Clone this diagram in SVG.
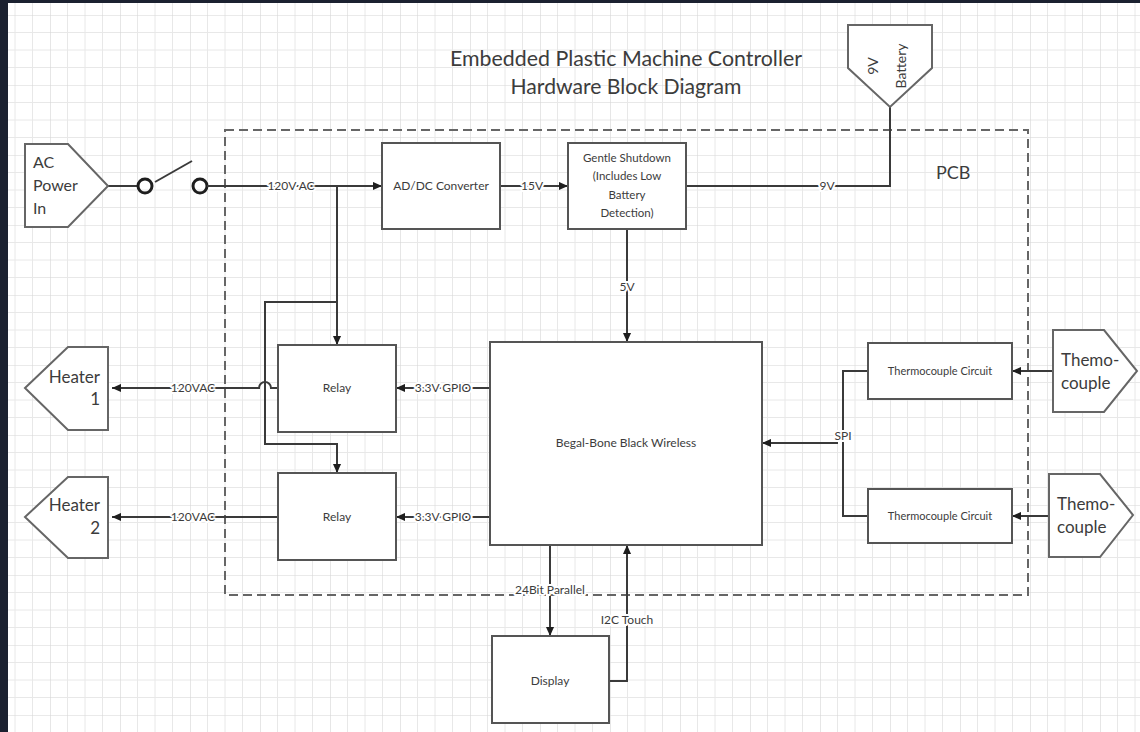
<svg xmlns="http://www.w3.org/2000/svg" width="1140" height="732" viewBox="0 0 1140 732">
<defs>
<pattern id="grid" patternUnits="userSpaceOnUse" x="50" y="15" width="70" height="70">
<path d="M17.5,0V70M35,0V70M52.5,0V70M0,17.5H70M0,35H70M0,52.5H70" stroke="#e8e8e8" stroke-width="1" fill="none"/>
<path d="M0,0V70M0,0H70" stroke="#d6d6d6" stroke-width="1.2" fill="none"/>
</pattern>
<marker id="arr" viewBox="0 0 10 10" refX="10" refY="5" markerWidth="9" markerHeight="9" markerUnits="userSpaceOnUse" orient="auto">
<path d="M0,0.5 L10,5 L0,9.5 z" fill="#1e1e1e"/>
</marker>
<style>
.box{fill:#fff;stroke:#555;stroke-width:2}
.shape{fill:#fff;stroke:#666;stroke-width:2}
.ln{fill:none;stroke:#3a3a3a;stroke-width:2}
.arr{marker-end:url(#arr)}
.t{font-family:Lato,"Liberation Sans",sans-serif;fill:#3c3c3c}
.c{text-anchor:middle}
.lbl{font-family:Lato,"Liberation Sans",sans-serif;fill:#3c3c3c;font-size:12px;text-anchor:middle;stroke:#fff;stroke-width:4;paint-order:stroke;stroke-linejoin:round}
</style>
</defs>
<rect x="0" y="0" width="1140" height="732" fill="#fff"/>
<rect x="8" y="3" width="1132" height="729" fill="url(#grid)"/>
<rect x="0" y="0" width="1140" height="3" fill="#1b2130"/>
<rect x="0" y="0" width="8" height="732" fill="#1b2130"/>

<g id="title">
<text class="t c" x="626" y="66" font-size="20.5" textLength="352" lengthAdjust="spacingAndGlyphs">Embedded Plastic Machine Controller</text>
<text class="t c" x="626" y="94" font-size="20.5" textLength="231" lengthAdjust="spacingAndGlyphs">Hardware Block Diagram</text>
</g>

<g id="pcb">
<rect x="225" y="130" width="803" height="465" fill="none" stroke="#666" stroke-width="2" stroke-dasharray="9,5"/>
<text class="t" x="936" y="179" font-size="18">PCB</text>
</g>

<g id="connectors">
<path class="ln" d="M108,186H138"/>
<circle cx="145" cy="186" r="7" fill="none" stroke="#1e1e1e" stroke-width="3"/>
<path class="ln" d="M155,182L192,161" stroke="#1e1e1e"/>
<circle cx="200" cy="186" r="7" fill="none" stroke="#1e1e1e" stroke-width="3"/>
<path class="ln arr" d="M207,186H382"/>
<path class="ln arr" d="M500,186H568"/>
<path class="ln" d="M686,186H890V107"/>
<path class="ln arr" d="M627,229V342"/>
<path class="ln arr" d="M337,186V345"/>
<path class="ln arr" d="M337,302H265V444H337V473"/>
<path class="ln arr" d="M278,388H271A6,6 0 0 0 259,388H112"/>
<path class="ln arr" d="M278,517H112"/>
<path class="ln arr" d="M490,388H396"/>
<path class="ln arr" d="M490,517H396"/>
<path class="ln arr" d="M1053,371H1012"/>
<path class="ln arr" d="M1049,516H1012"/>
<path class="ln" d="M868,371H843V516H868"/>
<path class="ln arr" d="M838,443H762"/>
<path class="ln arr" d="M550,545V636"/>
<path class="ln arr" d="M609,681H627V545"/>
<text class="lbl" x="291" y="190">120V AC</text>
<text class="lbl" x="532" y="190">15V</text>
<text class="lbl" x="827" y="190" font-size="10">9V</text>
<text class="lbl" x="627" y="291">5V</text>
<text class="lbl" x="193" y="392">120VAC</text>
<text class="lbl" x="193" y="521">120VAC</text>
<text class="lbl" x="443" y="392">3.3V GPIO</text>
<text class="lbl" x="443" y="521">3.3V GPIO</text>
<text class="lbl" x="843" y="440">SPI</text>
<text class="lbl" x="550" y="594">24Bit Parallel</text>
<text class="lbl" x="627" y="624">I2C Touch</text>
</g>

<g id="ac-power">
<path class="shape" d="M25,144H68L108,186L68,227H25Z"/>
<text class="t" x="33" y="168" font-size="16">AC</text>
<text class="t" x="33" y="191" font-size="16">Power</text>
<text class="t" x="33" y="214" font-size="16">In</text>
</g>

<g id="battery">
<path class="shape" d="M848,25H932V68L890,107L848,68Z"/>
<text class="t c" transform="translate(878,66) rotate(-90)" font-size="14">9V</text>
<text class="t c" transform="translate(906,66) rotate(-90)" font-size="14">Battery</text>
</g>

<g id="adc">
<rect class="box" x="382" y="143" width="118" height="86"/>
<text class="t c" x="441" y="190" font-size="12">AD/DC Converter</text>
</g>

<g id="shutdown">
<rect class="box" x="568" y="143" width="118" height="86"/>
<text class="t c" x="627" y="162" font-size="11.5">Gentle Shutdown</text>
<text class="t c" x="627" y="180" font-size="11.5">(Includes Low</text>
<text class="t c" x="627" y="199" font-size="11.5">Battery</text>
<text class="t c" x="627" y="217" font-size="11.5">Detection)</text>
</g>

<g id="relay1">
<rect class="box" x="278" y="345" width="118" height="87"/>
<text class="t c" x="337" y="392" font-size="12">Relay</text>
</g>

<g id="relay2">
<rect class="box" x="278" y="473" width="118" height="87"/>
<text class="t c" x="337" y="521" font-size="12">Relay</text>
</g>

<g id="heater1">
<path class="shape" d="M25,388L68,347H108V430H68Z"/>
<text class="t" x="100" y="383" font-size="17" text-anchor="end">Heater</text>
<text class="t" x="100" y="405" font-size="17" text-anchor="end">1</text>
</g>

<g id="heater2">
<path class="shape" d="M25,517L68,477H108V558H68Z"/>
<text class="t" x="100" y="511" font-size="17" text-anchor="end">Heater</text>
<text class="t" x="100" y="534" font-size="17" text-anchor="end">2</text>
</g>

<g id="beagle">
<rect class="box" x="490" y="342" width="272" height="203"/>
<text class="t c" x="626" y="447" font-size="12">Begal-Bone Black Wireless</text>
</g>

<g id="tc-circuit1">
<rect class="box" x="868" y="343" width="144" height="56"/>
<text class="t c" x="940" y="375" font-size="11">Thermocouple Circuit</text>
</g>

<g id="tc-circuit2">
<rect class="box" x="868" y="489" width="144" height="54"/>
<text class="t c" x="940" y="520" font-size="11">Thermocouple Circuit</text>
</g>

<g id="thermocouple1">
<path class="shape" d="M1053,330H1104L1137,371L1104,412H1053Z"/>
<text class="t" x="1061" y="366" font-size="17">Themo-</text>
<text class="t" x="1061" y="389" font-size="17">couple</text>
</g>

<g id="thermocouple2">
<path class="shape" d="M1049,474H1100L1133,515L1100,557H1049Z"/>
<text class="t" x="1057" y="510" font-size="17">Themo-</text>
<text class="t" x="1057" y="533" font-size="17">couple</text>
</g>

<g id="display">
<rect class="box" x="492" y="636" width="117" height="87"/>
<text class="t c" x="550" y="685" font-size="12">Display</text>
</g>
</svg>
